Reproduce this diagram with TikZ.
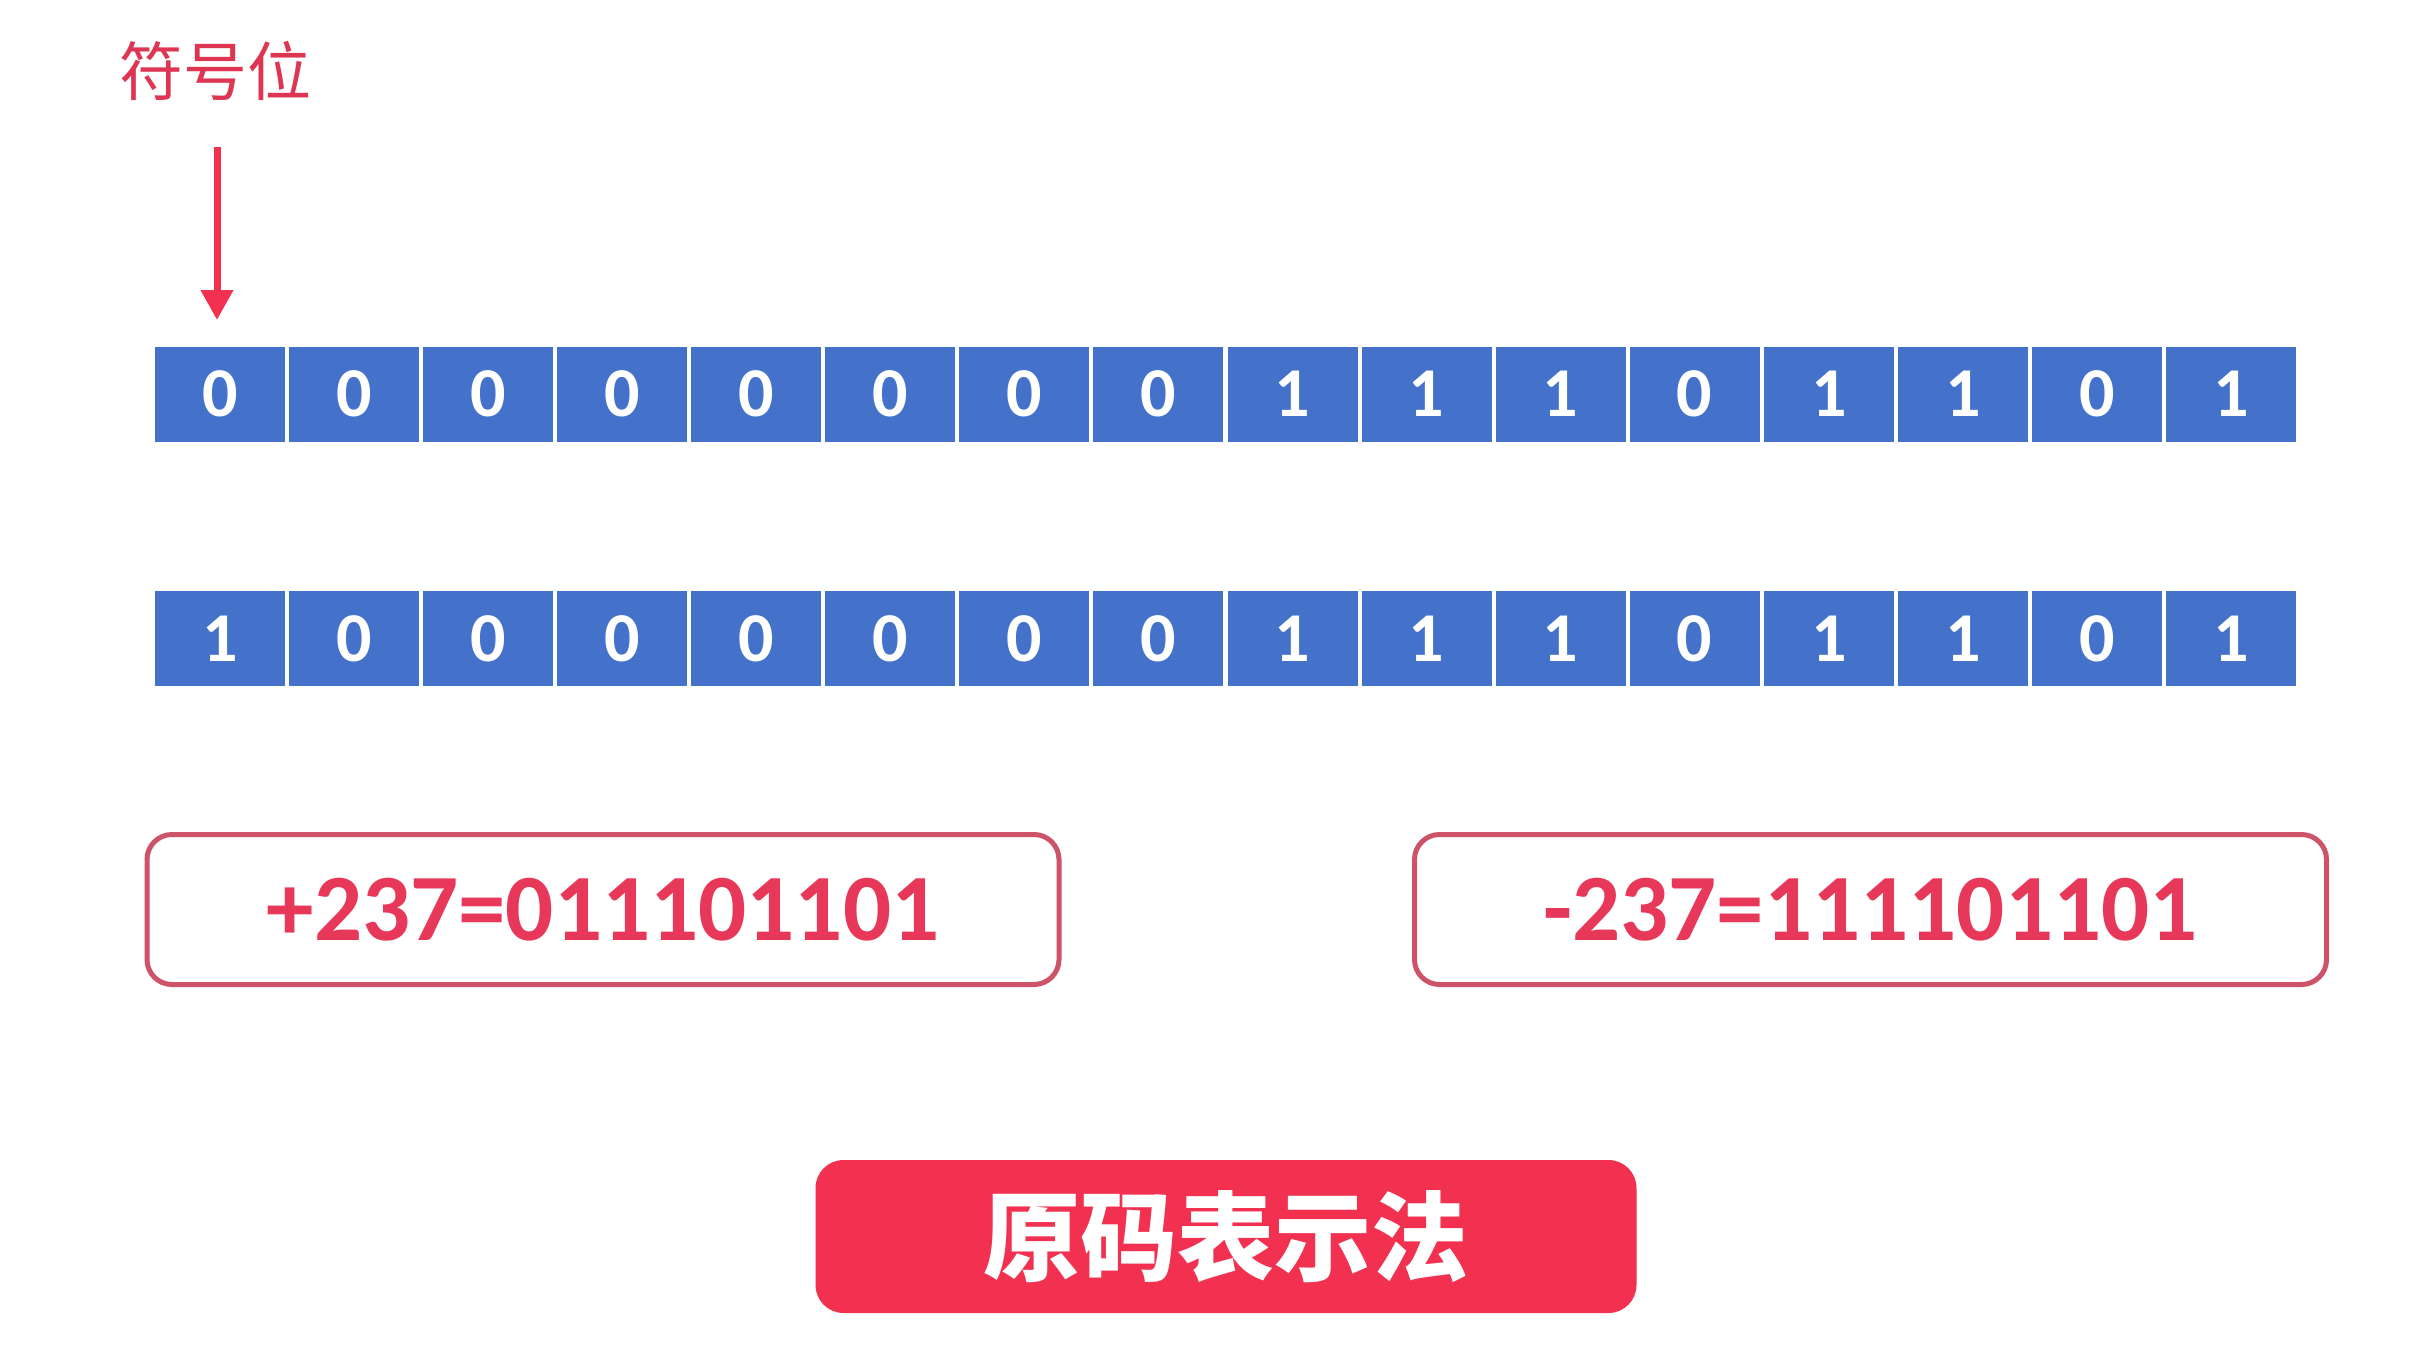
\documentclass[tikz,border=0pt]{standalone}
\usepackage{fontspec}
\setmainfont{Carlito}
\newfontfamily\cjk{Noto Sans CJK SC}
\usetikzlibrary{arrows.meta}
\definecolor{cellblue}{HTML}{4472CA}
\definecolor{signred}{HTML}{F2304F}
\definecolor{labelred}{HTML}{DD3552}
\definecolor{boxline}{HTML}{CD5468}
\definecolor{boxtext}{HTML}{E8385A}
\begin{document}
\begin{tikzpicture}[x=1pt,y=-1pt,
  bit/.style={fill=cellblue, minimum width=130pt, minimum height=95pt, inner sep=0pt,
    text=white, font=\bfseries\fontsize{70}{70}\selectfont},
  codebox/.style={draw=boxline, line width=5pt, rounded corners=25pt, fill=white,
    minimum width=912pt, minimum height=150pt, inner sep=0pt,
    text=boxtext, font=\bfseries\fontsize{95}{95}\selectfont},
  titlebox/.style={fill=signred, rounded corners=28pt, minimum width=821pt,
    minimum height=153pt, inner sep=0pt, text=white,
    font=\cjk\bfseries\fontsize{97}{97}\selectfont},
  signlabel/.style={text=labelred, inner sep=0pt, font=\cjk\fontsize{64}{64}\selectfont},
  signarrow/.style={draw=signred, line width=7pt, -{Triangle[length=30pt,width=31pt]}}
]
\fill[white] (0,0) rectangle (2430,1352);
\useasboundingbox (0,0) rectangle (2430,1352);

\node[signlabel] (sign) at (215.5,71) {符号位};
\coordinate (arrowtop) at (217,147);
\coordinate (arrowtip) at (217,320);
\draw[signarrow] (arrowtop) -- (arrowtip);

\foreach \b [count=\i from 0] in {0,0,0,0,0,0,0,0,1,1,1,0,1,1,0,1}
  \node[bit] (a\i) at ({153+134.06*(\i+0.5)},394.2) {\b};
\foreach \b [count=\i from 0] in {1,0,0,0,0,0,0,0,1,1,1,0,1,1,0,1}
  \node[bit] (b\i) at ({153+134.06*(\i+0.5)},638.3) {\b};

\node[codebox] (pos) at (603,909.5) {+237=011101101};
\node[codebox] (neg) at (1870.5,909.5) {-237=111101101};

\node[titlebox] (title) at (1226,1236.5) {原码表示法};
\end{tikzpicture}
\end{document}
